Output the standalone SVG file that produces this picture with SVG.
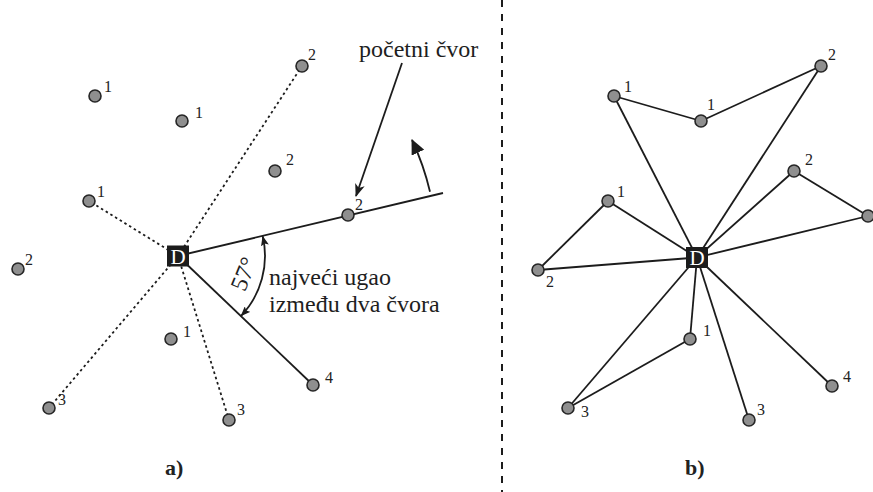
<svg xmlns="http://www.w3.org/2000/svg" width="873" height="492" viewBox="0 0 873 492">
<style>
.n{fill:#8f8f8f;stroke:#262626;stroke-width:1.6}
.e{stroke:#1c1c1c;stroke-width:1.8;fill:none}
.d{stroke:#1c1c1c;stroke-width:1.8;fill:none;stroke-dasharray:2.5 3}
.l{font-family:"Liberation Serif",serif;font-size:16px;fill:#222}
.t{font-family:"Liberation Serif",serif;font-size:24px;fill:#1e1e1e}
.sq{fill:#1c1c1c}
.D{font-family:"Liberation Serif",serif;font-size:21px;fill:#fff;text-anchor:middle}
.cap{font-family:"Liberation Serif",serif;font-size:22px;font-weight:bold;fill:#222}
</style>
<defs>
<marker id="big" markerUnits="userSpaceOnUse" viewBox="0 0 15 14" refX="14" refY="7" markerWidth="15" markerHeight="14" orient="auto"><path d="M0,0 L15,7 L0,14 z" fill="#1c1c1c"/></marker>
<marker id="barb" markerUnits="userSpaceOnUse" viewBox="0 0 13 10" refX="12" refY="5" markerWidth="13" markerHeight="10" orient="auto"><path d="M0,0 L13,5 L0,10 L3.5,5 z" fill="#1c1c1c"/></marker>
<marker id="sm" markerUnits="userSpaceOnUse" viewBox="0 0 10 8" refX="10" refY="4" markerWidth="10" markerHeight="8" orient="auto-start-reverse"><path d="M0,0 L10,4 L0,8 L2,4 z" fill="#1c1c1c"/></marker>
</defs>
<rect width="873" height="492" fill="#fff"/>

<line x1="502" y1="0" x2="502" y2="492" stroke="#1c1c1c" stroke-width="2" stroke-dasharray="7 7"/>

<g id="connectors">
<!-- panel a -->
<line class="d" x1="178" y1="256" x2="302" y2="66"/>
<line class="d" x1="178" y1="256" x2="89" y2="201"/>
<line class="d" x1="178" y1="256" x2="49" y2="408"/>
<line class="d" x1="178" y1="256" x2="229" y2="420"/>
<line class="e" x1="178" y1="256" x2="443" y2="193"/>
<line class="e" x1="178" y1="256" x2="313" y2="385"/>
<path class="e" d="M262.6,235.8 A87,87 0 0 1 240.7,316.3" marker-start="url(#sm)" marker-end="url(#sm)"/>
<path class="e" d="M430,191.8 A260,260 0 0 0 412,140" marker-end="url(#big)"/>
<line class="e" x1="402" y1="63" x2="356" y2="196" marker-end="url(#barb)"/>
<!-- panel b -->
<line class="e" x1="697" y1="257.5" x2="614" y2="96"/>
<line class="e" x1="614" y1="96" x2="701" y2="121"/>
<line class="e" x1="701" y1="121" x2="821" y2="66"/>
<line class="e" x1="821" y1="66" x2="697" y2="257.5"/>
<line class="e" x1="697" y1="257.5" x2="794" y2="171"/>
<line class="e" x1="794" y1="171" x2="868" y2="216"/>
<line class="e" x1="868" y1="216" x2="697" y2="257.5"/>
<line class="e" x1="697" y1="257.5" x2="608" y2="201"/>
<line class="e" x1="608" y1="201" x2="538" y2="270"/>
<line class="e" x1="538" y1="270" x2="697" y2="257.5"/>
<line class="e" x1="697" y1="257.5" x2="690" y2="339"/>
<line class="e" x1="690" y1="339" x2="568" y2="408"/>
<line class="e" x1="568" y1="408" x2="697" y2="257.5"/>
<line class="e" x1="697" y1="257.5" x2="749" y2="420"/>
<line class="e" x1="697" y1="257.5" x2="832" y2="386"/>
</g>

<!-- panel a nodes -->
<g id="a-D"><rect class="sq" x="167" y="245.5" width="22" height="21"/><text class="D" x="178" y="263.5">D</text></g>
<g id="a-n1"><circle class="n" cx="95" cy="96" r="6"/><text class="l" x="104" y="92">1</text></g>
<g id="a-n2"><circle class="n" cx="182" cy="121" r="6"/><text class="l" x="195" y="118">1</text></g>
<g id="a-n3"><circle class="n" cx="302" cy="66" r="6"/><text class="l" x="308" y="60">2</text></g>
<g id="a-n4"><circle class="n" cx="275" cy="171" r="6"/><text class="l" x="286" y="165">2</text></g>
<g id="a-n5"><circle class="n" cx="89" cy="201" r="6"/><text class="l" x="97" y="197">1</text></g>
<g id="a-n6"><circle class="n" cx="348" cy="215" r="6"/><text class="l" x="355" y="210">2</text></g>
<g id="a-n7"><circle class="n" cx="18" cy="269" r="6"/><text class="l" x="25" y="265">2</text></g>
<g id="a-n8"><circle class="n" cx="171" cy="339" r="6"/><text class="l" x="183" y="337">1</text></g>
<g id="a-n9"><circle class="n" cx="313" cy="385" r="6"/><text class="l" x="325" y="383">4</text></g>
<g id="a-n10"><circle class="n" cx="49" cy="408" r="6"/><text class="l" x="58" y="405">3</text></g>
<g id="a-n11"><circle class="n" cx="229" cy="420" r="6"/><text class="l" x="237" y="415">3</text></g>

<g id="a-labels">
<text class="t" x="359" y="57">početni čvor</text>
<text class="t" x="269" y="285">najveći ugao</text>
<text class="t" x="269" y="312">između dva čvora</text>
<text class="t" x="0" y="0" font-size="21" text-anchor="middle" transform="translate(251,277) rotate(-68)">57°</text>
<text class="cap" x="165" y="475">a)</text>
</g>

<!-- panel b nodes -->
<g id="b-D"><rect class="sq" x="686" y="247" width="22" height="21"/><text class="D" x="697" y="265">D</text></g>
<g id="b-n1"><circle class="n" cx="614" cy="96" r="6"/><text class="l" x="624" y="92">1</text></g>
<g id="b-n2"><circle class="n" cx="701" cy="121" r="6"/><text class="l" x="707" y="110">1</text></g>
<g id="b-n3"><circle class="n" cx="821" cy="66" r="6"/><text class="l" x="828" y="60">2</text></g>
<g id="b-n4"><circle class="n" cx="794" cy="171" r="6"/><text class="l" x="805" y="165">2</text></g>
<g id="b-n5"><circle class="n" cx="868" cy="216" r="6"/></g>
<g id="b-n6"><circle class="n" cx="608" cy="201" r="6"/><text class="l" x="617" y="197">1</text></g>
<g id="b-n7"><circle class="n" cx="538" cy="270" r="6"/><text class="l" x="546" y="287">2</text></g>
<g id="b-n8"><circle class="n" cx="690" cy="339" r="6"/><text class="l" x="703" y="336">1</text></g>
<g id="b-n9"><circle class="n" cx="832" cy="386" r="6"/><text class="l" x="843" y="382">4</text></g>
<g id="b-n10"><circle class="n" cx="568" cy="408" r="6"/><text class="l" x="581" y="417">3</text></g>
<g id="b-n11"><circle class="n" cx="749" cy="420" r="6"/><text class="l" x="757" y="415">3</text></g>
<g id="b-labels"><text class="cap" x="685" y="475">b)</text></g>
</svg>
